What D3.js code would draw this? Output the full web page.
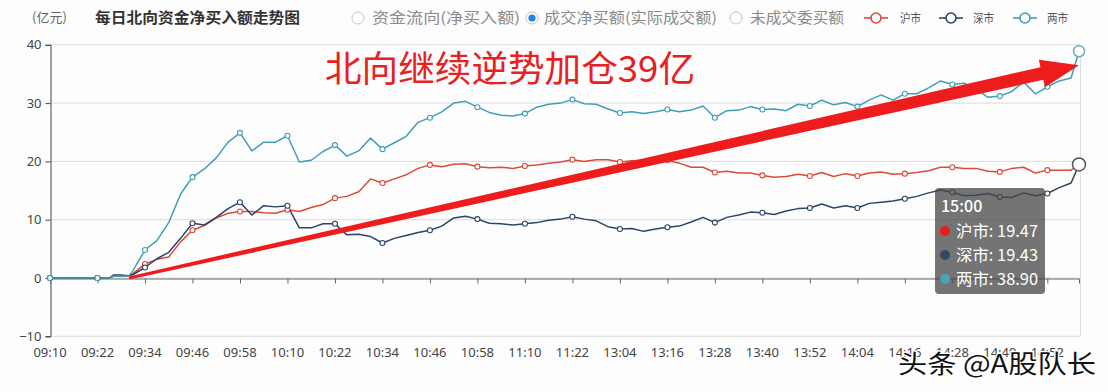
<!DOCTYPE html>
<html><head><meta charset="utf-8">
<script src="https://cdn.jsdelivr.net/npm/d3@7"></script>
<style>
body{margin:0;background:#fdfdfd;}
svg{display:block;font-family:"Noto Sans CJK SC","Noto Sans",sans-serif;}
</style>
</head><body><svg id="c" width="1108" height="392"></svg>
<script>
// ---------- data ----------
function minuteRange(a, b){ const o=[]; for(let m=a;m<=b;m++){ o.push(String(Math.floor(m/60)).padStart(2,"0")+":"+String(m%60).padStart(2,"0")); } return o; }
const categories = minuteRange(9*60+10, 11*60+30).concat(minuteRange(13*60+1, 15*60));

const xTickLabels = ["09:10","09:22","09:34","09:46","09:58","10:10","10:22","10:34","10:46","10:58","11:10","11:22",
  "13:04","13:16","13:28","13:40","13:52","14:04","14:16","14:28","14:40","14:52"];
const yTicks = [-10, 0, 10, 20, 30, 40];

const sampleTimes = ["09:10","09:13","09:16","09:19","09:22","09:25","09:26","09:28","09:30",
 "09:31","09:34","09:37","09:40","09:43","09:46","09:49","09:52","09:55","09:58",
 "10:01","10:04","10:07","10:10","10:13","10:16","10:19","10:22","10:25","10:28",
 "10:31","10:34","10:37","10:40","10:43","10:46","10:49","10:52","10:55","10:58",
 "11:01","11:04","11:07","11:10","11:13","11:16","11:19","11:22","11:25","11:28",
 "13:01","13:04","13:07","13:10","13:13","13:16","13:19","13:22","13:25","13:28",
 "13:31","13:34","13:37","13:40","13:43","13:46","13:49","13:52","13:55","13:58",
 "14:01","14:04","14:07","14:10","14:13","14:16","14:19","14:22","14:25","14:28",
 "14:31","14:34","14:37","14:40","14:43","14:46","14:49","14:52","14:55","14:58","15:00"];

const shanghai = [0,0,0,0,0,0,0.3,0.3,0.4,
 0.8,2.4,3.2,3.6,6.2,8.2,9.0,10.3,11.1,11.4,
 11.4,11.2,11.1,11.7,11.4,12.1,12.6,13.7,14.0,14.8,
 17.0,16.3,17.0,17.7,18.8,19.4,19.1,19.5,19.6,19.1,
 18.9,19.0,18.8,19.2,19.4,19.7,19.9,20.3,20.0,20.3,
 20.3,19.9,20.1,20.2,20.2,20.2,19.7,19.0,19.0,18.1,
 18.3,18.0,18.0,17.6,17.3,17.4,17.8,17.5,18.1,17.4,
 17.9,17.5,18.0,18.2,17.8,17.9,18.1,18.4,19.0,19.0,
 18.8,18.8,18.3,18.2,18.8,19.0,18.0,18.5,18.5,18.5,19.47];

const shenzhen = [0,0,0,0,0,0,0.5,0.5,0.4,
 0.6,1.8,3.3,4.4,6.8,9.4,9.1,10.4,11.9,13.0,
 10.8,12.4,12.2,12.4,8.6,8.6,9.3,9.3,7.4,7.5,
 7.1,6.0,6.8,7.3,7.8,8.2,8.9,10.3,10.6,10.1,
 9.4,9.3,9.1,9.3,9.5,9.9,10.1,10.5,10.1,9.8,
 8.8,8.4,8.5,8.0,8.4,8.7,8.9,9.6,10.4,9.5,
 10.4,10.8,11.3,11.2,10.9,11.5,11.9,12.0,12.7,12.0,
 12.4,12.0,12.8,13.0,13.2,13.6,14.0,14.6,15.1,14.7,
 14.1,14.2,14.5,13.9,13.8,14.6,14.1,14.5,15.5,16.3,19.43];

const both = [0,0,0,0,0,0,0.3,0.3,0.4,
 1.3,4.8,6.4,9.5,14.4,17.3,18.7,20.6,23.3,24.9,
 21.8,23.3,23.3,24.4,19.9,20.2,21.7,22.8,20.9,21.8,
 24.0,22.1,23.2,24.3,26.7,27.5,28.5,30.0,30.3,29.3,
 28.4,27.9,27.8,28.2,29.3,29.8,30.0,30.6,29.9,29.8,
 29.0,28.3,28.5,28.2,28.5,28.9,28.5,28.8,29.5,27.5,
 28.7,28.8,29.4,28.9,29.0,28.7,29.8,29.5,30.5,29.7,
 30.1,29.4,30.5,31.4,30.5,31.6,31.6,32.6,33.8,33.2,
 33.4,32.4,31.0,31.2,32.0,33.6,31.6,32.8,33.8,34.3,38.90];

const seriesNames = ["沪市","深市","两市"];
const seriesColors = ["#dc4a3c","#2b4468","#3f9fb8"];
const tooltipDots = ["#ee1b1b","#2f4a62","#4aa3b5"];
const seriesData = [shanghai, shenzhen, both];

const radioItems = ["资金流向(净买入额)","成交净买额(实际成交额)","未成交委买额"];
const titleText = "每日北向资金净买入额走势图";
const unitText = "(亿元)";
const noteText = "北向继续逆势加仓39亿";
const watermark = "头条 @A股队长";

// ---------- drawing ----------
const svg = d3.select("#c");
const x = d3.scalePoint().domain(categories).range([50, 1079]);
const y = d3.scaleLinear().domain([-10, 40]).range([336.3, 44.8]);

// grid
svg.append("g").selectAll("line").data(yTicks).join("line")
  .attr("x1", 50).attr("x2", 1080).attr("y1", d=>y(d)).attr("y2", d=>y(d))
  .attr("stroke", "#dcdcdc").attr("stroke-width", 1);
svg.append("line").attr("x1",1080.5).attr("x2",1080.5).attr("y1",y(40)).attr("y2",y(-10)).attr("stroke","#dcdcdc");

// y axis
const ya = svg.append("g").attr("transform","translate(50.5,0)")
  .call(d3.axisLeft(y).tickValues(yTicks).tickSize(5).tickPadding(4));
ya.select(".domain").attr("stroke","#444");
ya.selectAll(".tick line").attr("stroke","#444");
ya.selectAll("text").attr("fill","#444").attr("font-size",13).attr("font-family","Noto Sans, sans-serif");

// x axis on zero line
const xa = svg.append("g").attr("transform",`translate(0,${Math.round(y(0))+0.5})`)
  .call(d3.axisBottom(x).tickValues(xTickLabels).tickSize(5).tickFormat(""));
xa.select(".domain").attr("stroke","#666");
xa.selectAll(".tick line").attr("stroke","#666");
// x labels at bottom
svg.append("g").selectAll("text").data(xTickLabels).join("text")
  .attr("x", d=>x(d)).attr("y", 357).attr("text-anchor","middle")
  .attr("font-size",13).attr("fill","#444").attr("font-family","Noto Sans, sans-serif").text(d=>d);

// series lines
const line = d3.line().x((d,i)=>x(sampleTimes[i])).y(d=>y(d));
seriesData.forEach((arr, k)=>{
  svg.append("path").datum(arr).attr("d", line).attr("fill","none")
    .attr("stroke", seriesColors[k]).attr("stroke-width", 1.5).attr("stroke-linejoin","round");
});
seriesData.forEach((arr, k)=>{
  const pts = arr.map((v,i)=>({t:sampleTimes[i], v})).filter(p=>xTickLabels.includes(p.t));
  svg.append("g").selectAll("circle").data(pts).join("circle")
    .attr("cx", p=>x(p.t)).attr("cy", p=>y(p.v)).attr("r", 2.5)
    .attr("fill","#fff").attr("stroke", seriesColors[k]).attr("stroke-width",1.1);
});

// hover end circles
const lastT = sampleTimes[sampleTimes.length-1];
svg.append("circle").attr("cx", x(lastT)).attr("cy", y(both[both.length-1])).attr("r",5.5)
  .attr("fill","#fff").attr("stroke","#6aaebc").attr("stroke-width",1.5);
svg.append("circle").attr("cx", x(lastT)).attr("cy", y(shanghai[shanghai.length-1])).attr("r",6.5)
  .attr("fill","#fff").attr("stroke","#555").attr("stroke-width",1.5);

// red arrow annotation (data space)
const p0=[x("09:30"), y(0)], p1=[x("15:00"), y(36.5)];
const dx=p1[0]-p0[0], dy=p1[1]-p0[1], L=Math.hypot(dx,dy), ux=dx/L, uy=dy/L, nx=-uy, ny=ux;
const headLen=38, headHW=14, hw0=1.6, hw1=6.5;
const bx=p1[0]-ux*headLen, by=p1[1]-uy*headLen;
const poly=[[p0[0]+nx*hw0,p0[1]+ny*hw0],[bx+nx*hw1,by+ny*hw1],[bx+nx*headHW,by+ny*headHW],p1,
  [bx-nx*headHW,by-ny*headHW],[bx-nx*hw1,by-ny*hw1],[p0[0]-nx*hw0,p0[1]-ny*hw0]];
svg.append("polygon").attr("points", poly.map(p=>p.join(",")).join(" ")).attr("fill","#ee1d1d");

svg.append("text").attr("x",325).attr("y",82).attr("font-size",36).attr("fill","#e8201f")
  .attr("textLength",370).attr("lengthAdjust","spacingAndGlyphs").text(noteText);

// title + unit
svg.append("text").attr("x",32).attr("y",22).attr("font-size",13).attr("fill","#666").text(unitText);
svg.append("text").attr("x",95).attr("y",23).attr("font-size",15).attr("font-weight","bold").attr("fill","#333")
  .attr("textLength",205).attr("lengthAdjust","spacingAndGlyphs").text(titleText);

// radio legend
const radioPos = [{cx:358, tx:372, w:148},{cx:532, tx:544, w:173},{cx:736, tx:750, w:94}];
radioItems.forEach((t,i)=>{
  const p = radioPos[i];
  svg.append("circle").attr("cx",p.cx).attr("cy",18).attr("r",6).attr("fill","#fff").attr("stroke","#c4c4c4");
  if(i===1) svg.append("circle").attr("cx",p.cx).attr("cy",18).attr("r",3.6).attr("fill","#2a7ee6");
  svg.append("text").attr("x",p.tx).attr("y",23).attr("font-size",14.5).attr("fill","#8a8a8a")
    .attr("textLength",p.w).attr("lengthAdjust","spacingAndGlyphs").text(t);
});
// series legend
const legPos = [{lx:864, tx:900}, {lx:939, tx:973}, {lx:1013, tx:1047}];
seriesNames.forEach((n,i)=>{
  const p = legPos[i];
  svg.append("line").attr("x1",p.lx).attr("x2",p.lx+24).attr("y1",18).attr("y2",18).attr("stroke",seriesColors[i]).attr("stroke-width",1.6);
  svg.append("circle").attr("cx",p.lx+12).attr("cy",18).attr("r",5).attr("fill","#fff").attr("stroke",seriesColors[i]).attr("stroke-width",1.6);
  svg.append("text").attr("x",p.tx).attr("y",22.5).attr("font-size",12).attr("fill","#555")
    .attr("textLength",21).attr("lengthAdjust","spacingAndGlyphs").text(n);
});

// tooltip
const tt = svg.append("g");
tt.append("rect").attr("x",935).attr("y",188).attr("width",110).attr("height",106).attr("rx",4)
  .attr("fill","rgba(72,72,72,0.76)");
tt.append("text").attr("x",941).attr("y",212).attr("font-size",16).attr("font-weight",500).attr("fill","#fff").text(lastT);
const fmt = d3.format(".2f");
seriesNames.forEach((n,i)=>{
  const cy = 231 + i*24;
  tt.append("circle").attr("cx",945).attr("cy",cy).attr("r",5).attr("fill",tooltipDots[i]);
  tt.append("text").attr("x",956).attr("y",cy+6).attr("font-size",16).attr("fill","#fff")
    .attr("textLength",82).attr("lengthAdjust","spacingAndGlyphs")
    .text(n+": "+fmt(seriesData[i][seriesData[i].length-1]));
});

// watermark
svg.append("text").attr("x",898).attr("y",373).attr("font-size",25).attr("fill","#111")
  .attr("stroke","#fff").attr("stroke-width",2.5).attr("paint-order","stroke")
  .attr("textLength",198).attr("lengthAdjust","spacingAndGlyphs").text(watermark);
</script>
</body></html>
